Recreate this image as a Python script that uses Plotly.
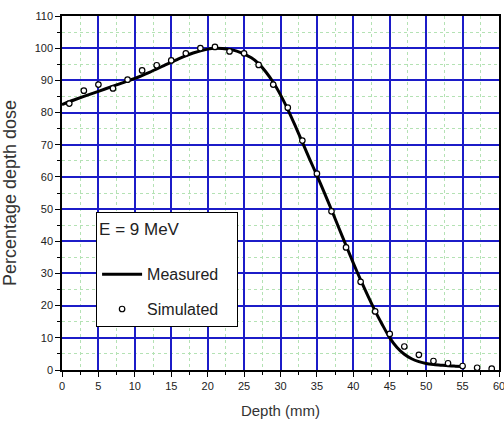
import plotly.graph_objects as go

# Measured depth-dose curve (depth in mm, percentage depth dose)
measured_depth = [0, 2, 4, 6, 8, 10, 12, 14, 16, 18, 20, 21, 22, 24, 26, 27, 28, 29, 30,
                  31, 32, 33, 34, 35, 36, 37, 38, 39, 40, 41, 42, 43, 44, 45, 46, 47, 48,
                  49, 50, 51, 52, 53, 54, 55]
measured_dose = [82.5, 84.2, 85.8, 87.4, 89.0, 90.6, 92.5, 94.6, 96.7, 98.5, 99.7, 100.0,
                 99.9, 99.1, 97.0, 95.2, 92.6, 89.4, 85.5, 81.0, 76.0, 70.8, 65.5, 60.5,
                 55.2, 49.8, 44.2, 38.7, 33.2, 28.0, 23.0, 18.3, 14.0, 10.0, 7.0, 4.9,
                 3.5, 2.6, 2.0, 1.7, 1.5, 1.3, 1.2, 1.1]

# Simulated points
sim_depth = [1, 3, 5, 7, 9, 11, 13, 15, 17, 19, 21, 23, 25, 27, 29, 31, 33, 35, 37, 39,
             41, 43, 45, 47, 49, 51, 53, 55, 57, 59]
sim_dose = [82.8, 86.8, 88.7, 87.5, 90.2, 93.1, 94.7, 96.2, 98.4, 100.0, 100.4, 99.0,
            98.4, 94.8, 88.7, 81.5, 71.3, 61.0, 49.3, 38.1, 27.4, 18.2, 11.2, 7.3, 4.7,
            2.8, 2.1, 1.25, 0.7, 0.4]

x_ticks = [0, 5, 10, 15, 20, 25, 30, 35, 40, 45, 50, 55, 60]
y_ticks = [0, 10, 20, 30, 40, 50, 60, 70, 80, 90, 100, 110]

FONT = "Liberation Sans, Arial, sans-serif"

fig = go.Figure()
fig.add_trace(go.Scatter(
    x=measured_depth, y=measured_dose, mode="lines", name="Measured\u00a0\u00a0\u00a0",
    line=dict(color="black", width=3, shape="spline", smoothing=0.6),
    legendgroup="a",
))
fig.add_trace(go.Scatter(
    x=sim_depth, y=sim_dose, mode="markers", name="Simulated\u00a0\u00a0\u00a0",
    marker=dict(symbol="circle", size=5.5, color="white",
                line=dict(color="black", width=1.2)),
    legendgroup="b",
))

axis_common = dict(
    showline=True, linecolor="black", linewidth=1.5, mirror=True,
    ticks="outside", ticklen=5, tickcolor="black", tickwidth=1,
    showgrid=True, gridcolor="#1c1cc8", gridwidth=1.5,
    zeroline=False, automargin=False, ticklabeloverflow="allow",
    tickfont=dict(family=FONT, size=11, color="#222"),
)

fig.update_xaxes(
    range=[0, 60], tickvals=x_ticks, ticktext=[str(v) for v in x_ticks],
    minor=dict(dtick=2.5, tick0=0, showgrid=True, gridcolor="#b4e2b4",
               griddash="dot", gridwidth=1, ticks="outside", ticklen=3,
               tickcolor="black"),
    title=dict(text="Depth (mm)", font=dict(family=FONT, size=15, color="#333"),
               standoff=15),
    **axis_common,
)
fig.update_yaxes(
    range=[0, 110], tickvals=y_ticks, ticktext=[str(v) for v in y_ticks],
    minor=dict(dtick=5, tick0=0, showgrid=True, gridcolor="#b4e2b4",
               griddash="dot", gridwidth=1, ticks="outside", ticklen=3,
               tickcolor="black"),
    title=dict(text="Percentage depth dose", font=dict(family=FONT, size=18, color="#333"),
               standoff=13),
    **axis_common,
)

fig.update_layout(
    width=504, height=427,
    margin=dict(l=62, r=5, t=16, b=57),
    paper_bgcolor="white", plot_bgcolor="white",
    showlegend=True,
    legend=dict(
        x=0.078, y=0.446, xanchor="left", yanchor="top",
        bgcolor="white", bordercolor="black", borderwidth=1,
        font=dict(family=FONT, size=16, color="#222"),
        title=dict(text="E = 9 MeV<br> ", font=dict(family=FONT, size=17, color="#222")),
        tracegroupgap=11,
        itemwidth=40,
    ),
)

fig.write_html("out.html", config={"displayModeBar": False},
               post_script="document.body.style.margin='0';")
